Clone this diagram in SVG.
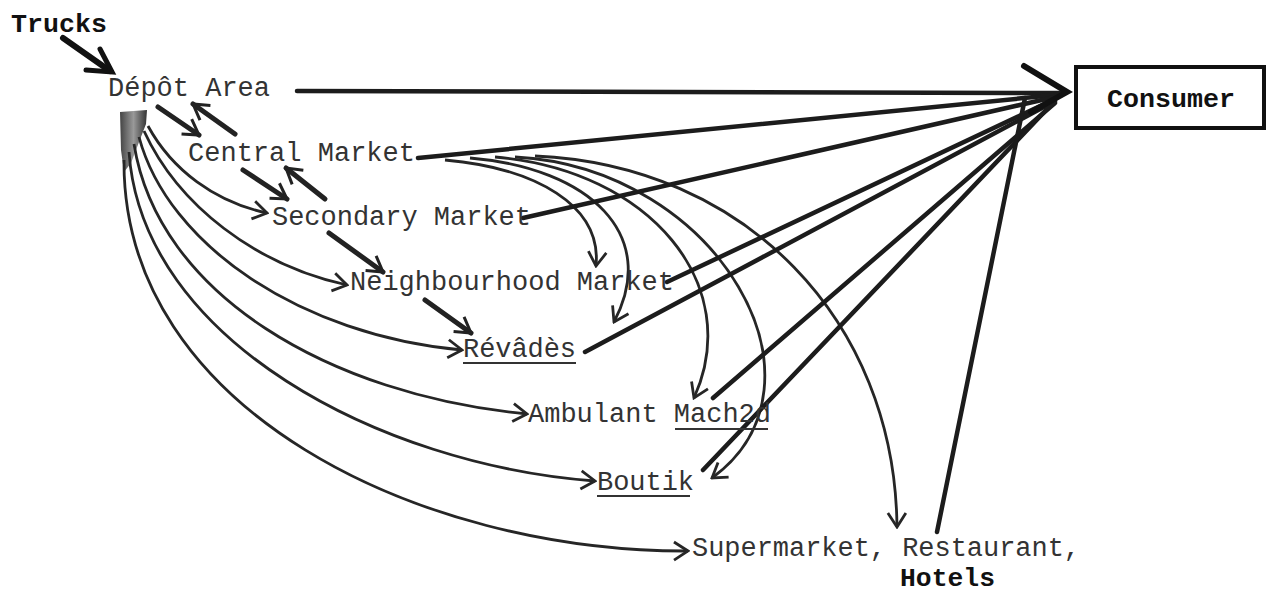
<svg xmlns="http://www.w3.org/2000/svg" width="1269" height="594" viewBox="0 0 1269 594">
<style>
.tw{font-family:"Liberation Mono","DejaVu Sans Mono",monospace;font-size:27px;fill:#333;}
.bd{font-family:"Liberation Mono","DejaVu Sans Mono",monospace;font-size:26px;font-weight:bold;fill:#111;}
.thin{fill:none;stroke:#262626;stroke-width:2.8;marker-end:url(#open);}
.thick{fill:none;stroke:#1c1c1c;stroke-width:4.5;stroke-linecap:round;}
.short{fill:none;stroke:#222;stroke-width:5;stroke-linecap:round;marker-end:url(#tk);}
.ul{stroke:#333;stroke-width:2;}
</style>
<defs>
<marker id="open" viewBox="-16 -11 18 22" refX="0" refY="0" markerWidth="18" markerHeight="22" markerUnits="userSpaceOnUse" orient="auto">
<path d="M-14,-9 L0,0 L-14,9" fill="none" stroke="#262626" stroke-width="2.8"/>
</marker>
<marker id="tk" viewBox="-18 -12 20 24" refX="0" refY="0" markerWidth="20" markerHeight="24" markerUnits="userSpaceOnUse" orient="auto">
<path d="M-15,-9 L0,0 L-15,9" fill="none" stroke="#222" stroke-width="3"/>
</marker>
<linearGradient id="sm" x1="0" y1="0" x2="1" y2="0">
<stop offset="0" stop-color="#444"/><stop offset="0.5" stop-color="#999"/><stop offset="1" stop-color="#333"/>
</linearGradient>
</defs>
<rect width="1269" height="594" fill="#fff"/>

<g id="connectors">
<path d="M63,38 L110,71" fill="none" stroke="#111" stroke-width="6" stroke-linecap="round"/>
<path d="M86,70 L112,72 L100,49" fill="none" stroke="#111" stroke-width="5" stroke-linecap="round"/>
<path d="M120,112 L147,110 L146,124 L139,142 L131,163 L124,172 L121,150 Z" fill="url(#sm)"/>
<path class="short" d="M158,107 L199,135"/>
<path class="short" d="M235,134 L193,104"/>
<path class="short" d="M243,170 L287,199"/>
<path class="short" d="M325,199 L286,168"/>
<path class="short" d="M329,233 L383,272"/>
<path class="short" d="M425,300 L471,333"/>

<path class="thin" d="M148,126 C172,170 215,202 267,213"/>
<path class="thin" d="M144,131 C178,205 255,265 347,285"/>
<path class="thin" d="M139,137 C168,245 300,335 462,350"/>
<path class="thin" d="M134,144 C158,295 330,395 527,414"/>
<path class="thin" d="M129,152 C142,340 380,465 595,481"/>
<path class="thin" d="M124,160 C122,410 420,552 688,551"/>

<path class="thin" d="M445,160 C535,168 602,205 596,266"/>
<path class="thin" d="M470,158 C590,168 660,235 614,322"/>
<path class="thin" d="M495,157 C650,170 745,285 694,398"/>
<path class="thin" d="M515,157 C720,168 840,385 712,478"/>
<path class="thin" d="M535,156 C745,165 895,320 897,527"/>

<path class="thick" d="M297,91 L1060,93"/>
<path class="thick" d="M418,158 L1055,95"/>
<path class="thick" d="M523,218 L1055,97"/>
<path class="thick" d="M667,282 L1055,99"/>
<path class="thick" d="M585,352 L1055,101"/>
<path class="thick" d="M713,398 L1055,103"/>
<path class="thick" d="M703,470 L1050,106"/>
<path class="thick" d="M937,532 L1025,98"/>
<path d="M1024,66 L1067,92 L1031,112" fill="none" stroke="#111" stroke-width="6" stroke-linecap="round"/>
</g>

<g id="trucks"><text class="bd" x="11" y="32" textLength="96" lengthAdjust="spacingAndGlyphs">Trucks</text></g>
<g id="depot"><text class="tw" x="108" y="96" textLength="162">Dépôt Area</text></g>
<g id="central"><text class="tw" x="188" y="161" textLength="227">Central Market</text></g>
<g id="secondary"><text class="tw" x="272" y="225" textLength="259">Secondary Market</text></g>
<g id="neighbourhood"><text class="tw" x="350" y="290" textLength="324">Neighbourhood Market</text></g>
<g id="revades"><text class="tw" x="463" y="357" textLength="113">Révâdès</text><line class="ul" x1="463" y1="363" x2="576" y2="363"/></g>
<g id="ambulant"><text class="tw" x="528" y="422" textLength="243">Ambulant Mach2d</text><line class="ul" x1="675" y1="429" x2="768" y2="429"/></g>
<g id="boutik"><text class="tw" x="597" y="490" textLength="97">Boutik</text><line class="ul" x1="597" y1="496" x2="690" y2="496"/></g>
<g id="supermarket"><text class="tw" x="692" y="556" textLength="388">Supermarket, Restaurant,</text><text class="bd" x="900" y="586" font-size="25" textLength="95" lengthAdjust="spacingAndGlyphs">Hotels</text></g>
<g id="consumer"><rect x="1076" y="67" width="188" height="61" fill="#fff" stroke="#111" stroke-width="4"/><text class="bd" x="1107" y="107" textLength="128" lengthAdjust="spacingAndGlyphs">Consumer</text></g>
</svg>
